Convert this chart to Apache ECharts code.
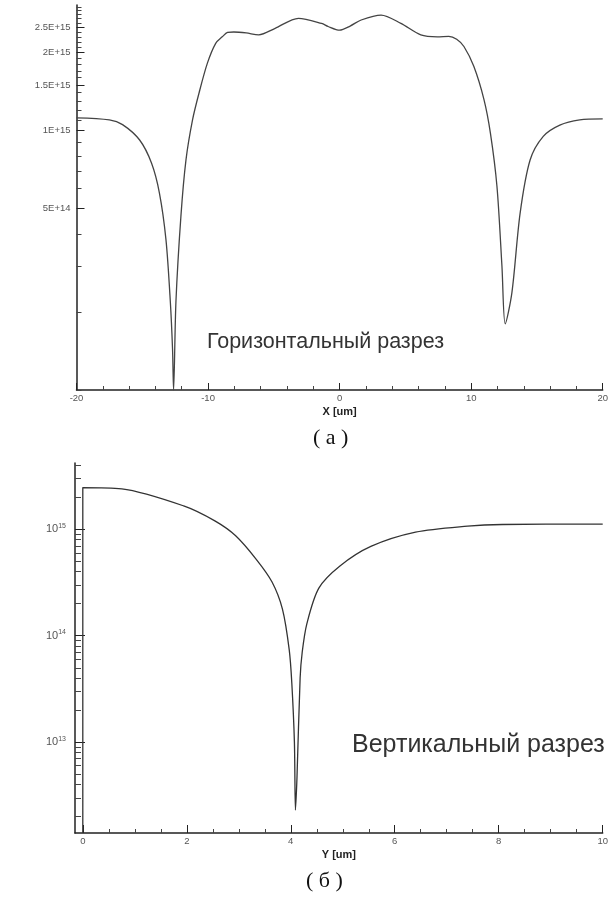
<!DOCTYPE html>
<html><head><meta charset="utf-8">
<script src="https://cdn.jsdelivr.net/npm/echarts@6/dist/echarts.min.js"></script>
<style>html,body{margin:0;padding:0;background:#fff}#c{width:611px;height:904px}</style>
</head><body><div id="c"></div>
<script>
// ---- data: horizontal cut (X [um], value) ----
const topX = [-20,-17.5,-16.5,-15.2,-14.3,-13.7,-13.2,-12.87,-12.7,-12.62,-12.44,-12.06,-11.68,-11.18,-10.68,-10.05,-9.42,-8.92,-8.52,-8.04,-7.1,-6.15,-4.9,-3.13,-1.37,-0.87,0,0.8,1.64,3.15,4.66,6.17,7.43,8.3,8.9,9.45,10.2,10.97,11.46,11.96,12.34,12.59,13.1,13.72,14.48,15.48,16.74,18.25,20];
const topV = [1.12e15,1.10e15,1.055e15,9.2e14,7.5e14,5.76e14,3.8e14,2.2e14,1.44e14,1.0e14,2.2e14,4.7e14,7.7e14,1.10e15,1.40e15,1.82e15,2.17e15,2.30e15,2.39e15,2.40e15,2.38e15,2.34e15,2.48e15,2.71e15,2.59e15,2.52e15,2.44e15,2.53e15,2.67e15,2.79e15,2.59e15,2.34e15,2.30e15,2.31e15,2.25e15,2.11e15,1.77e15,1.32e15,9.8e14,6.1e14,3.0e14,1.8e14,2.38e14,4.8e14,7.7e14,9.5e14,1.05e15,1.10e15,1.11e15];
// ---- data: vertical cut (Y [um], value) ----
const botX = [0,0,0.75,1.94,2.54,2.94,3.34,3.64,3.84,3.97,4.02,4.07,4.09,4.12,4.18,4.22,4.31,4.54,4.94,5.54,6.40,7.40,8.07,10];
const botV = [1.4e12,2.47e15,2.40e15,1.66e15,1.20e15,8.7e14,5.2e14,3.2e14,1.78e14,7.4e13,3.6e13,1.0e13,2.3e12,4.7e12,4.0e13,7.0e13,1.3e14,2.8e14,4.5e14,6.9e14,9.4e14,1.07e15,1.11e15,1.12e15];
// ---- tick labels ----
const topYTicks = [5e14,1e15,1.5e15,2e15,2.5e15];
const topYLabels = ['5E+14','1E+15','1.5E+15','2E+15','2.5E+15'];
const topYMinor = [1e14,2e14,3e14,4e14,6e14,7e14,8e14,9e14,1.1e15,1.2e15,1.3e15,1.4e15,1.6e15,1.7e15,1.8e15,1.9e15,2.1e15,2.2e15,2.3e15,2.4e15,2.6e15,2.7e15,2.8e15,2.9e15,3e15];
const topXTicks = [-20,-10,0,10,20];
const topXMinor = [-18,-16,-14,-12,-8,-6,-4,-2,2,4,6,8,12,14,16,18];
const botYTicks = [1e13,1e14,1e15];
const botYLabels = ['10{s|13}','10{s|14}','10{s|15}'];
const botYMinor = [2e12,3e12,4e12,5e12,6e12,7e12,8e12,9e12,2e13,3e13,4e13,5e13,6e13,7e13,8e13,9e13,2e14,3e14,4e14,5e14,6e14,7e14,8e14,9e14,2e15,3e15,4e15];
const botXTicks = [0,2,4,6,8,10];
const botXMinor = [0.5,1,1.5,2.5,3,3.5,4.5,5,5.5,6.5,7,7.5,8.5,9,9.5];

const chart = echarts.init(document.getElementById('c'), null, {renderer:'canvas'});
const FONT = 'Liberation Sans, Arial, sans-serif';
const lab = {color:'#555', fontSize:9.5, fontFamily:FONT};
const axLine = {show:true, onZero:false, lineStyle:{color:'#222', width:1.5}};
const noLine = {show:false, onZero:false};
function zip(a,b){return a.map((v,i)=>[v,b[i]]);}

const option = {
  animation:false,
  grid:[
    {left:76.5, right:4.5, top:5, bottom:514},
    {left:75, right:8, top:463, bottom:71}
  ],
  xAxis:[
    {gridIndex:0, type:'value', position:'bottom', min:-20, max:20, axisLine:axLine, splitLine:{show:false},
     axisTick:{show:true, inside:true, length:7, lineStyle:{color:'#222'}, customValues:topXTicks},
     axisLabel:Object.assign({margin:3, customValues:topXTicks}, lab),
     name:'X [um]', nameLocation:'middle', nameGap:16,
     nameTextStyle:{fontWeight:'bold', fontSize:11, color:'#222', fontFamily:FONT}},
    {gridIndex:0, type:'value', position:'bottom', min:-20, max:20, axisLine:noLine, splitLine:{show:false},
     axisTick:{show:true, inside:true, length:4, lineStyle:{color:'#444'}, customValues:topXMinor},
     axisLabel:{show:false}},
    {gridIndex:1, type:'value', position:'bottom', min:-0.15, max:10, axisLine:axLine, splitLine:{show:false},
     axisTick:{show:true, inside:true, length:8, lineStyle:{color:'#222'}, customValues:botXTicks},
     axisLabel:Object.assign({margin:3, customValues:botXTicks}, lab),
     name:'Y [um]', nameLocation:'middle', nameGap:16,
     nameTextStyle:{fontWeight:'bold', fontSize:11, color:'#222', fontFamily:FONT}},
    {gridIndex:1, type:'value', position:'bottom', min:-0.15, max:10, axisLine:noLine, splitLine:{show:false},
     axisTick:{show:true, inside:true, length:4, lineStyle:{color:'#444'}, customValues:botXMinor},
     axisLabel:{show:false}}
  ],
  yAxis:[
    {gridIndex:0, type:'log', position:'left', min:1e14, max:3.05e15, axisLine:axLine, splitLine:{show:false},
     axisTick:{show:true, inside:true, length:8, lineStyle:{color:'#222'}, customValues:topYTicks},
     axisLabel:Object.assign({margin:6, customValues:topYTicks,
       formatter:v=>{const i=topYTicks.findIndex(t=>Math.abs(t-v)/t<1e-6);return i>=0?topYLabels[i]:'';}}, lab)},
    {gridIndex:0, type:'log', position:'left', min:1e14, max:3.05e15, axisLine:noLine, splitLine:{show:false},
     axisTick:{show:true, inside:true, length:5, lineStyle:{color:'#444'}, customValues:topYMinor},
     axisLabel:{show:false}},
    {gridIndex:1, type:'log', position:'left', min:1.4e12, max:4.2e15, axisLine:axLine, splitLine:{show:false},
     axisTick:{show:true, inside:true, length:10, lineStyle:{color:'#222'}, customValues:botYTicks},
     axisLabel:{margin:9, customValues:botYTicks, color:'#555', fontSize:11, fontFamily:FONT,
       formatter:v=>{const i=botYTicks.findIndex(t=>Math.abs(t-v)/t<1e-6);return i>=0?botYLabels[i]:'';},
       rich:{s:{fontSize:7, color:'#555', verticalAlign:'top', padding:[0,0,7,0], fontFamily:FONT}}}},
    {gridIndex:1, type:'log', position:'left', min:1.4e12, max:4.2e15, axisLine:noLine, splitLine:{show:false},
     axisTick:{show:true, inside:true, length:6, lineStyle:{color:'#444'}, customValues:botYMinor},
     axisLabel:{show:false}}
  ],
  series:[
    {type:'line', xAxisIndex:0, yAxisIndex:0, data:zip(topX,topV), showSymbol:false, smooth:0.3,
     lineStyle:{color:'#444', width:1.3}, clip:true},
    {type:'line', xAxisIndex:2, yAxisIndex:2, data:zip(botX,botV), showSymbol:false, smooth:0.3,
     lineStyle:{color:'#333', width:1.3}, clip:true}
  ],
  graphic:[
    {type:'text', left:207, top:331, style:{text:'Горизонтальный разрез', fontSize:21.5, fill:'#333', fontFamily:FONT}},
    {type:'text', left:352, top:733, style:{text:'Вертикальный разрез', fontSize:25, fill:'#333', fontFamily:FONT}},
    {type:'text', left:313, top:427, style:{text:'( а )', fontSize:22, fill:'#111', fontFamily:'Liberation Serif, Times New Roman, serif'}},
    {type:'text', left:306, top:870, style:{text:'( б )', fontSize:22, fill:'#111', fontFamily:'Liberation Serif, Times New Roman, serif'}}
  ]
};
chart.setOption(option);
</script></body></html>
